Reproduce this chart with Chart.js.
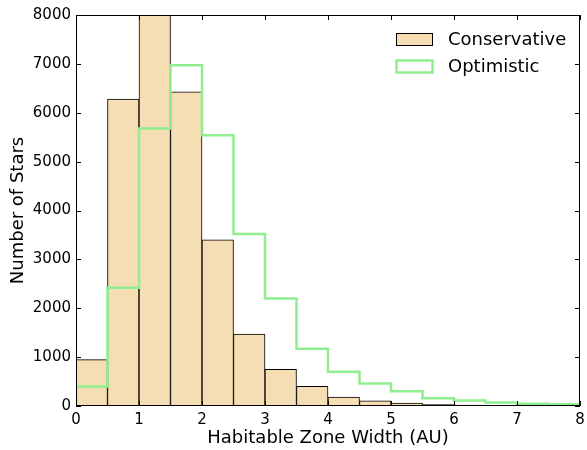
<!DOCTYPE html>
<html>
<head>
<meta charset="utf-8">
<script src="https://cdn.jsdelivr.net/npm/chart.js@4"></script>
<style>
  html, body { margin: 0; padding: 0; background: #fff; }
  #wrap { width: 587px; height: 450px; }
</style>
</head>
<body>
<div id="wrap"><canvas id="HistChart"></canvas></div>
<script>
const bin_edges = [0, 0.5, 1, 1.5, 2, 2.5, 3, 3.5, 4, 4.5, 5, 5.5, 6, 6.5, 7, 7.5, 8];

const conservative_counts = [950, 6280, 8000, 6430, 3400, 1470, 750, 400, 180, 105, 60, 28, 20, 15, 10, 5];

const optimistic_counts = [400, 2420, 5680, 6970, 5540, 3520, 2200, 1170, 700, 460, 300, 160, 110, 70, 48, 35];

const x_ticks = [0, 1, 2, 3, 4, 5, 6, 7, 8];
const y_ticks = [0, 1000, 2000, 3000, 4000, 5000, 6000, 7000, 8000];

const series_labels = ['Conservative', 'Optimistic'];

const FONT = "'DejaVu Sans', sans-serif";

// bars sit on bin centres, the step outline goes through the bin edges
const bar_points = conservative_counts.map((v, i) => ({
    x: (bin_edges[i] + bin_edges[i + 1]) / 2,
    y: v
}));

const step_points = [{ x: bin_edges[0], y: 0 }];
optimistic_counts.forEach((v, i) => {
    step_points.push({ x: bin_edges[i], y: v });
    step_points.push({ x: bin_edges[i + 1], y: v });
});
step_points.push({ x: bin_edges[bin_edges.length - 1], y: 0 });

// matplotlib style box with inward ticks on all four sides
const framePlugin = {
    id: 'frame',
    afterDatasetsDraw(chart) {
        const { ctx, chartArea: a, scales: { x, y } } = chart;
        ctx.save();
        ctx.strokeStyle = '#000';
        ctx.lineWidth = 1;
        ctx.strokeRect(a.left + 0.5, a.top + 0.5, a.right - a.left - 1, a.bottom - a.top - 1);
        ctx.beginPath();
        x_ticks.forEach(t => {
            const px = Math.round(x.getPixelForValue(t)) + 0.5;
            ctx.moveTo(px, a.bottom); ctx.lineTo(px, a.bottom - 5);
            ctx.moveTo(px, a.top); ctx.lineTo(px, a.top + 5);
        });
        y_ticks.forEach(t => {
            const py = Math.round(y.getPixelForValue(t)) + 0.5;
            ctx.moveTo(a.left, py); ctx.lineTo(a.left + 5, py);
            ctx.moveTo(a.right, py); ctx.lineTo(a.right - 5, py);
        });
        ctx.stroke();
        ctx.restore();
    }
};

// legend inside the axes, upper right
const legendPlugin = {
    id: 'innerLegend',
    afterDraw(chart) {
        const { ctx } = chart;
        ctx.save();
        ctx.font = '18px ' + FONT;
        ctx.textBaseline = 'middle';
        ctx.fillStyle = '#000';
        const rows = [
            { fill: 'rgb(245, 222, 179)', stroke: '#000', lw: 1, y: 33 },
            { fill: '#fff', stroke: 'rgb(144, 238, 144)', lw: 2.5, y: 60 }
        ];
        rows.forEach((r, i) => {
            ctx.fillStyle = r.fill;
            ctx.fillRect(396, r.y, 37, 13);
            ctx.strokeStyle = r.stroke;
            ctx.lineWidth = r.lw;
            ctx.strokeRect(396.5, r.y + 0.5, 36, 12);
            ctx.fillStyle = '#000';
            ctx.fillText(series_labels[i], 448, r.y + 7);
        });
        ctx.restore();
    }
};

const hist_data = {
    datasets: [{
        type: 'line',
        label: series_labels[1],
        data: step_points,
        borderColor: 'rgb(144, 238, 144)',
        borderWidth: 2.5,
        pointRadius: 0,
        fill: false,
        tension: 0,
        order: 0
    }, {
        type: 'bar',
        label: series_labels[0],
        data: bar_points,
        backgroundColor: 'rgb(245, 222, 179)',
        borderColor: '#000',
        borderWidth: 1,
        barPercentage: 1,
        categoryPercentage: 1,
        order: 1
    }]
};

const configHist = {
    type: 'bar',
    data: hist_data,
    plugins: [framePlugin, legendPlugin],
    options: {
        responsive: true,
        maintainAspectRatio: false,
        animation: false,
        layout: { padding: { top: 15, right: 7, left: 0, bottom: 0 } },
        plugins: {
            legend: { display: false },
            tooltip: { enabled: false }
        },
        scales: {
            x: {
                type: 'linear',
                min: 0,
                max: 8,
                offset: false,
                afterFit: s => { s.height = 44; s.paddingLeft = 0; s.paddingRight = 0; },
                afterBuildTicks: s => { s.ticks = x_ticks.map(v => ({ value: v })); },
                grid: { display: false, drawTicks: false, offset: false },
                border: { display: false },
                ticks: {
                    color: '#000',
                    font: { family: FONT, size: 15 },
                    padding: 5,
                    maxRotation: 0,
                    callback: v => String(v)
                },
                title: {
                    display: true,
                    text: 'Habitable Zone Width (AU)',
                    color: '#000',
                    font: { family: FONT, size: 18 },
                    padding: { top: 0, bottom: 1 }
                }
            },
            y: {
                min: 0,
                max: 8000,
                afterFit: s => { s.width = 76; s.paddingTop = 0; s.paddingBottom = 0; },
                afterBuildTicks: s => { s.ticks = y_ticks.map(v => ({ value: v })); },
                grid: { display: false, drawTicks: false },
                border: { display: false },
                ticks: {
                    color: '#000',
                    font: { family: FONT, size: 15 },
                    padding: 5,
                    callback: v => String(v)
                },
                title: {
                    display: true,
                    text: 'Number of Stars',
                    color: '#000',
                    font: { family: FONT, size: 18 },
                    padding: { top: 8, bottom: 0 }
                }
            }
        }
    }
};

const HistChart = new Chart(
    document.getElementById('HistChart'),
    configHist
);
</script>
</body>
</html>
